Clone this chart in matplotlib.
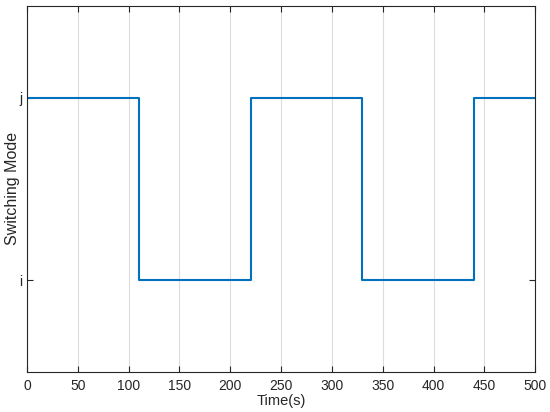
import matplotlib
matplotlib.use("Agg")
import matplotlib.pyplot as plt

switch_times = [0, 110, 220, 330, 440, 500]
modes = [2, 1, 2, 1, 2, 2]
mode_values = [1, 2]
mode_labels = ["i", "j"]
x_ticks = [0, 50, 100, 150, 200, 250, 300, 350, 400, 450, 500]

plt.rcParams['font.family'] = ['Liberation Sans', 'DejaVu Sans']
fig = plt.figure(figsize=(5.5, 4.12), dpi=100)
ax = fig.add_axes([0.049, 0.098, 0.924, 0.887])
ax.step(switch_times, modes, where='post', color='#0072BD', lw=1.5)
ax.set_xlim(0, 500)
ax.set_ylim(0.5, 2.5)
ax.set_xticks(x_ticks)
ax.set_yticks(mode_values)
ax.set_yticklabels(mode_labels)
ax.grid(axis='x', color='#dcdcdc', lw=0.8)
ax.set_axisbelow(True)
for s in ax.spines.values():
    s.set_color('#262626')
    s.set_linewidth(0.8)
ax.tick_params(direction='in', top=True, right=True, length=4, width=0.8,
               colors='#262626', labelsize=10, labelcolor='#262626')
ax.tick_params(axis='x', pad=5)
ax.set_xlabel('Time(s)', fontsize=10.5, color='#262626', labelpad=1)
ax.set_ylabel('Switching Mode', fontsize=11.5, color='#262626', labelpad=-1)
fig.savefig('out.png', dpi=100)
